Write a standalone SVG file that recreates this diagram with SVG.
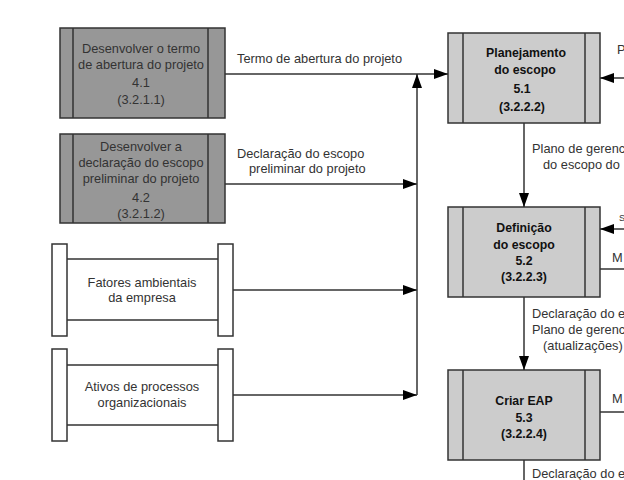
<svg xmlns="http://www.w3.org/2000/svg" width="624" height="480" viewBox="0 0 624 480">
<style>
text{font-family:"Liberation Sans",Arial,sans-serif;font-size:12.8px;fill:#333}
.c{text-anchor:middle}
.b{font-weight:bold;fill:#111;font-size:12.3px}
.dk{fill:#979797;stroke:#333;stroke-width:1.5}
.lt{fill:#ccc;stroke:#333;stroke-width:1.5}
.wh{fill:#fff;stroke:#333;stroke-width:1.5}
.ln{fill:none;stroke:#333;stroke-width:1.5}
.con path{fill:none;stroke:#333;stroke-width:1.5}
</style>
<defs>
<marker id="ah" markerUnits="userSpaceOnUse" markerWidth="14" markerHeight="10" refX="14" refY="5" orient="auto">
<path d="M0,0 L14,5 L0,10 Z" fill="#000"/>
</marker>
</defs>
<rect width="624" height="480" fill="#fff"/>

<g id="n41">
<rect class="dk" x="60" y="28" width="165" height="90"/>
<path class="ln" d="M73,28V118M208,28V118"/>
<text class="c" x="141" y="53">Desenvolver o termo</text>
<text class="c" x="141" y="69">de abertura do projeto</text>
<text class="c" x="141" y="87">4.1</text>
<text class="c" x="141" y="104">(3.2.1.1)</text>
</g>

<g id="n42">
<rect class="dk" x="60" y="134" width="165" height="89"/>
<path class="ln" d="M73,134V223M208,134V223"/>
<text class="c" x="141" y="151">Desenvolver a</text>
<text class="c" x="141" y="167">declaração do escopo</text>
<text class="c" x="141" y="183">preliminar do projeto</text>
<text class="c" x="141" y="202">4.2</text>
<text class="c" x="141" y="218">(3.2.1.2)</text>
</g>

<g id="fatores">
<rect class="wh" x="52" y="244" width="15" height="92"/>
<rect class="wh" x="218" y="244" width="15" height="92"/>
<path class="ln" d="M67,259H218M67,320H218"/>
<text class="c" x="142" y="287">Fatores ambientais</text>
<text class="c" x="142" y="302">da empresa</text>
</g>

<g id="ativos">
<rect class="wh" x="52" y="349" width="15" height="92"/>
<rect class="wh" x="218" y="349" width="15" height="92"/>
<path class="ln" d="M67,365H218M67,425H218"/>
<text class="c" x="142" y="391">Ativos de processos</text>
<text class="c" x="142" y="407">organizacionais</text>
</g>

<g id="n51">
<rect class="lt" x="448" y="33" width="152" height="90"/>
<path class="ln" d="M463,33V123M585,33V123"/>
<text class="c b" x="526" y="57">Planejamento</text>
<text class="c b" x="525" y="74">do escopo</text>
<text class="c b" x="522" y="93">5.1</text>
<text class="c b" x="522" y="111">(3.2.2.2)</text>
</g>

<g id="n52">
<rect class="lt" x="448" y="207" width="152" height="90"/>
<path class="ln" d="M463,207V297M585,207V297"/>
<text class="c b" x="524" y="232">Definição</text>
<text class="c b" x="524" y="249">do escopo</text>
<text class="c b" x="524" y="265">5.2</text>
<text class="c b" x="524" y="281">(3.2.2.3)</text>
</g>

<g id="n53">
<rect class="lt" x="448" y="370" width="152" height="90"/>
<path class="ln" d="M463,370V460M585,370V460"/>
<text class="c b" x="524" y="405">Criar EAP</text>
<text class="c b" x="524" y="422">5.3</text>
<text class="c b" x="524" y="438">(3.2.2.4)</text>
</g>

<g id="connectors" class="con">
<path d="M225,74H448" marker-end="url(#ah)"/>
<path d="M225,184H417" marker-end="url(#ah)"/>
<path d="M233,290H417" marker-end="url(#ah)"/>
<path d="M233,395H417" marker-end="url(#ah)"/>
<path d="M417,395V74" marker-end="url(#ah)"/>
<path d="M624,78H600" marker-end="url(#ah)"/>
<path d="M524,123V207" marker-end="url(#ah)"/>
<path d="M624,229H600" marker-end="url(#ah)"/>
<path d="M600,269H624"/>
<path d="M524,297V370" marker-end="url(#ah)"/>
<path d="M600,412H624"/>
<path d="M524,460V480"/>
</g>

<g id="labels">
<text x="237" y="63">Termo de abertura do projeto</text>
<text x="237" y="158">Declaração do escopo</text>
<text x="249" y="173">preliminar do projeto</text>
<text x="617" y="54">P</text>
<text x="532" y="153">Plano de gerenc</text>
<text x="543" y="169">do escopo do</text>
<text x="619" y="221" style="font-size:9px">S</text>
<text x="612" y="262">M</text>
<text x="532" y="318">Declaração do e</text>
<text x="532" y="334">Plano de gerenc</text>
<text x="543" y="350">(atualizações)</text>
<text x="612" y="403">M</text>
<text x="532" y="478">Declaração do e</text>
</g>
</svg>
